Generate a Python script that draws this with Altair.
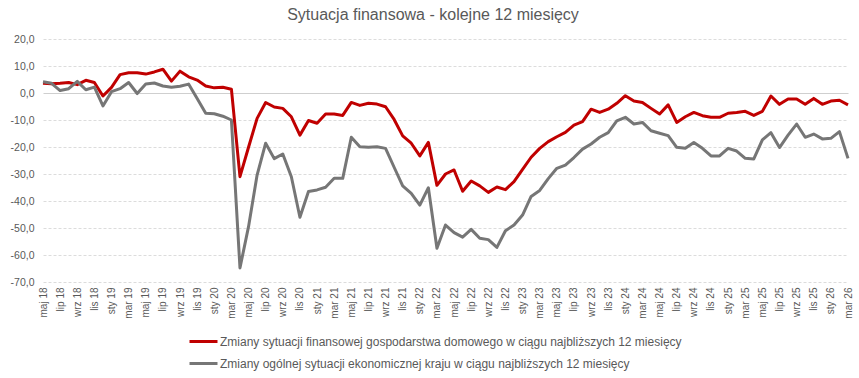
import altair as alt
import pandas as pd

NAZWY = ['sty', 'lut', 'mar', 'kwi', 'maj', 'cze', 'lip', 'sie', 'wrz', 'paź', 'lis', 'gru']
miesiace = []
for rok in range(2018, 2027):
    for m in range(12):
        if (rok == 2018 and m < 4) or (rok == 2026 and m > 2):
            continue
        miesiace.append(f"{NAZWY[m]} {str(rok)[2:]}")

seria_fin = "Zmiany sytuacji finansowej gospodarstwa domowego w ciągu najbliższych 12 miesięcy"
seria_ogol = "Zmiany ogólnej sytuacji ekonomicznej kraju w ciągu najbliższych 12 miesięcy"

finansowa = [
    3.6, 3.4, 3.6, 3.9, 3.1, 4.7, 3.9, -1.1, 2.1, 6.8,
    7.5, 7.5, 7.0, 7.8, 8.8, 4.4, 8.1, 6.0, 4.8, 2.6,
    1.9, 2.1, 1.4, -31.0, -20.1, -9.4, -3.5, -5.2, -5.7, -8.8,
    -15.6, -10.2, -11.2, -7.8, -7.8, -8.3, -3.5, -4.6, -3.8, -4.1,
    -5.1, -9.8, -15.9, -18.6, -23.3, -18.3, -34.2, -30.0, -28.5, -36.4,
    -32.6, -34.4, -36.8, -34.8, -35.8, -32.8, -28.3, -23.8, -20.5, -18.0,
    -16.2, -14.6, -11.9, -10.6, -6.0, -7.2, -6.0, -3.8, -1.0, -3.0,
    -3.5, -5.7, -7.8, -4.4, -10.9, -8.8, -7.2, -8.4, -9.0, -9.0,
    -7.5, -7.2, -6.8, -8.3, -6.8, -1.1, -4.2, -2.2, -2.2, -4.2,
    -2.0, -4.2, -3.0, -2.7, -4.4,
]

ogolna = [
    4.2, 3.6, 0.9, 1.6, 4.3, 1.2, 2.2, -4.8, 0.5, 1.6,
    3.9, -0.2, 3.3, 3.7, 2.6, 2.1, 2.5, 3.3, -2.0, -7.5,
    -7.7, -8.6, -10.0, -64.8, -49.5, -30.4, -18.6, -24.3, -22.6, -31.0,
    -46.0, -36.5, -35.9, -34.9, -31.6, -31.6, -16.4, -19.9, -20.1, -19.9,
    -20.5, -27.5, -34.4, -37.2, -41.5, -35.1, -57.5, -48.9, -51.7, -53.4,
    -50.5, -53.8, -54.3, -57.2, -51.0, -48.9, -45.2, -38.3, -36.1, -31.7,
    -27.9, -26.7, -23.9, -20.8, -18.9, -16.4, -14.7, -10.3, -9.0, -11.5,
    -10.9, -14.0, -14.9, -15.8, -20.1, -20.5, -18.3, -20.5, -23.3, -23.3,
    -20.5, -21.5, -24.2, -24.4, -17.4, -14.7, -20.2, -15.6, -11.5, -16.4,
    -15.2, -17.0, -16.8, -14.3, -24.2,
]

wartosci_y = [-70, -60, -50, -40, -30, -20, -10, 0, 10, 20]
miesiace_z_etykieta = ['sty', 'mar', 'maj', 'lip', 'wrz', 'lis']

df = pd.DataFrame({
    "miesiac": miesiace * 2,
    "wartosc": finansowa + ogolna,
    "seria": [seria_fin] * len(miesiace) + [seria_ogol] * len(miesiace),
})

FONT = "Liberation Sans"
TXT = "#595959"

lista = ",".join(f"'{m}'" for m in miesiace_z_etykieta)
x_label_expr = f"indexof([{lista}], slice(datum.value, 0, 3)) >= 0 ? datum.value : ''"

chart = alt.Chart(df).mark_line(strokeWidth=3, strokeJoin="round").encode(
    x=alt.X(
        "miesiac:O",
        sort=miesiace,
        title=None,
        scale=alt.Scale(type="point", padding=0, range=[0, 805]),
        axis=alt.Axis(
            labelAngle=270, domain=False, ticks=False, grid=False,
            labelFont=FONT, labelFontSize=10, labelColor=TXT, labelPadding=5,
            labelOverlap=False, labelBound=False, labelFlush=False,
            labelExpr=x_label_expr,
        ),
    ),
    y=alt.Y(
        "wartosc:Q",
        title=None,
        scale=alt.Scale(domain=[-70, 20], nice=False, zero=False),
        axis=alt.Axis(
            values=wartosci_y, domain=False, ticks=False,
            gridColor={"condition": {"test": "datum.value === 0", "value": "#cfcfcf"}, "value": "#dcdcdc"},
            gridDash={"condition": {"test": "datum.value === 0", "value": []}, "value": [3, 2]},
            gridWidth=1,
            labelFont=FONT, labelFontSize=10.5, labelColor=TXT, labelPadding=9,
            labelOverlap=False, labelBound=False, labelFlush=False,
            labelExpr="(datum.value < 0 ? '-' : '') + replace(format(abs(datum.value), '.1f'), '.', ',')",
        ),
    ),
    color=alt.Color(
        "seria:N",
        scale=alt.Scale(domain=[seria_fin, seria_ogol], range=["#C00000", "#767676"]),
        legend=alt.Legend(
            title=None, orient="none", legendX=145, legendY=287,
            symbolType="stroke", symbolStrokeWidth=3, symbolSize=784,
            labelFont=FONT, labelFontSize=12, labelColor=TXT, labelOffset=1,
            rowPadding=0, labelLimit=700,
        ),
    ),
).properties(
    width=812,
    height=243,
    padding={"left": 43, "top": 39, "right": 4, "bottom": 96},
    autosize=alt.AutoSizeParams(type="none"),
    title=alt.TitleParams(
        "Sytuacja finansowa - kolejne 12 miesięcy",
        font=FONT, fontSize=16, fontWeight="normal", color=TXT,
        anchor="middle", dx=-16, offset=11,
    ),
).configure_view(stroke=None)

chart.save("out.html", embed_options={"renderer": "svg", "actions": False})
